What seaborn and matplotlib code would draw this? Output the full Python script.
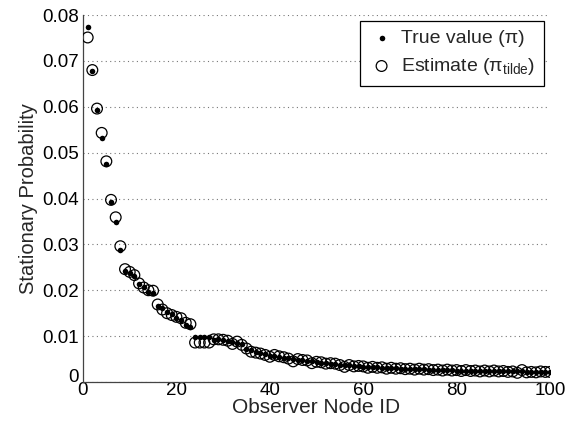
import numpy as np
import pandas as pd
import matplotlib
matplotlib.use("Agg")
import matplotlib.pyplot as plt
from matplotlib.ticker import MultipleLocator, FuncFormatter
import seaborn as sns

node_ids = list(range(1, 101))

true_pi = [
    0.0774, 0.0678, 0.0594, 0.0531, 0.0476, 0.0393, 0.0349, 0.0288, 0.0243, 0.0237,
    0.0231, 0.0213, 0.0208, 0.0197, 0.0195, 0.0166, 0.0161, 0.0153, 0.0148, 0.0139,
    0.0135, 0.0124, 0.0120, 0.0099, 0.0099, 0.0099, 0.0099, 0.0092, 0.0093, 0.0091,
    0.0089, 0.0087, 0.0084, 0.0082, 0.0071, 0.0070, 0.0066, 0.0063, 0.0060, 0.0057,
    0.0057, 0.0055, 0.0053, 0.0052, 0.0050, 0.0049, 0.0047, 0.0046, 0.0045, 0.0044,
    0.0042, 0.0041, 0.0040, 0.0039, 0.0038, 0.0037, 0.0036, 0.0035, 0.0034, 0.0033,
    0.0033, 0.0032, 0.0032, 0.0031, 0.0031, 0.0030, 0.0030, 0.0029, 0.0029, 0.0029,
    0.0028, 0.0028, 0.0028, 0.0027, 0.0027, 0.0027, 0.0026, 0.0026, 0.0026, 0.0025,
    0.0025, 0.0025, 0.0025, 0.0025, 0.0024, 0.0024, 0.0024, 0.0024, 0.0024, 0.0023,
    0.0023, 0.0023, 0.0023, 0.0023, 0.0022, 0.0022, 0.0022, 0.0022, 0.0022, 0.0022,
]

estimate_pi = [
    0.0751, 0.0680, 0.0596, 0.0543, 0.0481, 0.0397, 0.0359, 0.0296, 0.0246, 0.0240,
    0.0233, 0.0215, 0.0206, 0.0200, 0.0199, 0.0169, 0.0158, 0.0150, 0.0146, 0.0142,
    0.0139, 0.0129, 0.0126, 0.0086, 0.0086, 0.0086, 0.0086, 0.0093, 0.0093, 0.0092,
    0.0090, 0.0083, 0.0088, 0.0081, 0.0073, 0.0066, 0.0064, 0.0062, 0.0059, 0.0055,
    0.0059, 0.0056, 0.0054, 0.0051, 0.0045, 0.0050, 0.0048, 0.0047, 0.0041, 0.0044,
    0.0043, 0.0040, 0.0041, 0.0040, 0.0037, 0.0033, 0.0037, 0.0034, 0.0035, 0.0034,
    0.0031, 0.0033, 0.0031, 0.0032, 0.0029, 0.0031, 0.0029, 0.0030, 0.0028, 0.0029,
    0.0027, 0.0029, 0.0027, 0.0028, 0.0026, 0.0027, 0.0025, 0.0027, 0.0025, 0.0026,
    0.0024, 0.0026, 0.0024, 0.0025, 0.0023, 0.0025, 0.0023, 0.0025, 0.0023, 0.0024,
    0.0022, 0.0023, 0.0020, 0.0026, 0.0021, 0.0022, 0.0021, 0.0023, 0.0022, 0.0022,
]

x_ticks = [0, 20, 40, 60, 80, 100]
y_ticks = [0, 0.01, 0.02, 0.03, 0.04, 0.05, 0.06, 0.07, 0.08]

sns.set_style("white")
plt.rcParams["font.family"] = ["Liberation Sans", "DejaVu Sans"]
plt.rcParams["mathtext.fontset"] = "custom"
plt.rcParams["mathtext.rm"] = "Liberation Sans"
plt.rcParams["mathtext.it"] = "Liberation Sans:italic"

df = pd.DataFrame({"node": node_ids, "true": true_pi, "est": estimate_pi})

fig = plt.figure(figsize=(5.74, 4.34), dpi=100)
ax = fig.add_axes([83 / 574, 1 - 382 / 434, (550 - 83) / 574, (382 - 15) / 434])

sns.scatterplot(data=df, x="node", y="true", ax=ax, color="black", marker="o",
                s=16, linewidth=0, label="True value (π)", zorder=3)
sns.scatterplot(data=df, x="node", y="est", ax=ax, facecolor="none", edgecolor="black",
                marker="o", s=60, linewidth=0.9, label="Estimate (π$_{\\mathrm{tilde}}$)", zorder=4)

ax.set_xlim(0, 100)
ax.set_ylim(0, 0.08)
ax.set_xticks(x_ticks)
ax.set_yticks(y_ticks)
ax.xaxis.set_minor_locator(MultipleLocator(1))
ax.yaxis.set_major_formatter(FuncFormatter(lambda v, p: "0" if abs(v) < 1e-12 else f"{v:.2f}"))

ax.grid(axis="y", linestyle=(0, (1, 3)), color="#777777", linewidth=0.8)
ax.grid(axis="x", visible=False)
ax.set_axisbelow(True)

for side in ["top", "right"]:
    ax.spines[side].set_visible(False)
for side in ["left", "bottom"]:
    ax.spines[side].set_color("#444444")
    ax.spines[side].set_linewidth(0.9)

ax.tick_params(axis="both", which="major", direction="in", length=4, width=0.8,
               colors="#444444", labelcolor="black", labelsize=13.5)
ax.tick_params(axis="x", which="minor", direction="in", length=2, width=0.6, colors="#666666")
ax.tick_params(axis="x", which="major", pad=0)
ax.tick_params(axis="y", which="major", pad=3)
for lbl in ax.get_yticklabels():
    if lbl.get_text() == "0":
        lbl.set_verticalalignment("baseline")

ax.set_xlabel("Observer Node ID", fontsize=15, labelpad=-1)
ax.set_ylabel("Stationary Probability", fontsize=14.5, labelpad=3)

leg = ax.legend(loc="upper right", frameon=True, fontsize=14, handletextpad=0.35,
                borderpad=0.45, labelspacing=0.45, handlelength=1.3, fancybox=False,
                borderaxespad=0, bbox_to_anchor=((544 - 83) / 467, (382 - 21) / 367))
leg.get_frame().set_edgecolor("black")
leg.get_frame().set_linewidth(0.9)
leg.get_frame().set_alpha(1)

fig.savefig("out.png", dpi=100)
